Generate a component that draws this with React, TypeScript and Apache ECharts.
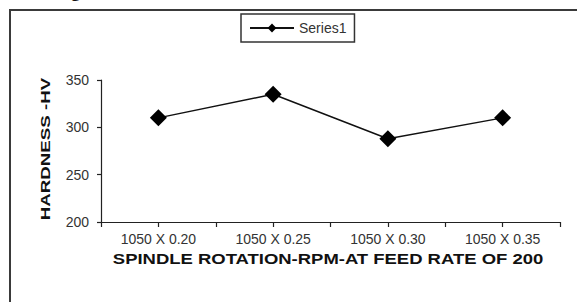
import React, { useEffect, useRef } from "react";
import * as echarts from "echarts";

const categories = ["1050 X 0.20", "1050 X 0.25", "1050 X 0.30", "1050 X 0.35"];
const series1 = [310, 335, 288, 310];
const seriesName = "Series1";
const yMin = 200;
const yMax = 350;
const yInterval = 50;
const xTitle = "SPINDLE ROTATION-RPM-AT FEED RATE OF 200";
const yTitle = "HARDNESS -HV";

export default function App() {
  const ref = useRef<HTMLDivElement>(null);
  useEffect(() => {
    document.body.style.margin = "0";
    const chart = echarts.init(ref.current!, null, { renderer: "svg" });
    const axisColor = "#222";
    const textColor = "#333";
    chart.setOption({
      animation: false,
      backgroundColor: "#fff",
      textStyle: { fontFamily: "Liberation Sans, Arial, sans-serif" },
      grid: { left: 101, right: 17, top: 80, bottom: 80, containLabel: false },
      legend: {
        data: [seriesName],
        left: 241,
        top: 14,
        padding: [7, 8, 7, 8],
        borderColor: "#333",
        borderWidth: 1.5,
        itemWidth: 44,
        itemHeight: 11,
        itemGap: 6,
        textStyle: { fontSize: 14, color: textColor, fontFamily: "Liberation Sans, Arial, sans-serif" },
      },
      xAxis: [
        {
          type: "category",
          data: categories,
          boundaryGap: true,
          axisLine: { show: true, lineStyle: { color: axisColor, width: 1.2 } },
          axisTick: { show: true, alignWithLabel: false, length: 5, lineStyle: { color: axisColor, width: 1.2 } },
          axisLabel: { color: textColor, fontSize: 14, margin: 10 },
          splitLine: { show: false },
        },
        {
          type: "category",
          data: categories,
          position: "bottom",
          boundaryGap: true,
          axisLine: { show: false },
          axisTick: { show: true, alignWithLabel: true, length: 5, lineStyle: { color: axisColor, width: 1.2 } },
          axisLabel: { show: false },
          splitLine: { show: false },
        },
      ],
      yAxis: {
        type: "value",
        min: yMin,
        max: yMax,
        interval: yInterval,
        axisLine: { show: true, lineStyle: { color: axisColor, width: 1.2 } },
        axisTick: { show: true, length: 4, lineStyle: { color: axisColor, width: 1.2 } },
        axisLabel: { color: textColor, fontSize: 14, margin: 12 },
        splitLine: { show: false },
      },
      series: [
        {
          name: seriesName,
          type: "line",
          data: series1,
          symbol: "diamond",
          symbolSize: 17,
          itemStyle: { color: "#000" },
          lineStyle: { color: "#111", width: 1.5 },
        },
      ],
      graphic: [
        {
          type: "rect",
          shape: { x: 10, y: 10, width: 700, height: 400 },
          style: { fill: "none", stroke: "#3a3a3a", lineWidth: 2 },
          silent: true,
        },
        {
          type: "text",
          x: 71,
          y: 0,
          style: {
            text: "g",
            fontSize: 18,
            fontWeight: "bold",
            fontFamily: "Liberation Serif, serif",
            fill: "#111",
            verticalAlign: "bottom",
          },
        },
        {
          type: "text",
          x: 328,
          y: 259,
          scaleX: 1.32,
          style: {
            text: xTitle,
            fontSize: 14,
            fontWeight: "bold",
            fontFamily: "Liberation Sans, Arial, sans-serif",
            fill: "#111",
            align: "center",
            verticalAlign: "middle",
          },
        },
        {
          type: "text",
          x: 46,
          y: 149,
          rotation: Math.PI / 2,
          scaleX: 1.56,
          style: {
            text: yTitle,
            fontSize: 12,
            fontWeight: "bold",
            fontFamily: "Liberation Sans, Arial, sans-serif",
            fill: "#111",
            align: "center",
            verticalAlign: "middle",
          },
        },
      ],
    });
    return () => chart.dispose();
  }, []);
  return <div ref={ref} style={{ width: 577, height: 302 }} />;
}
